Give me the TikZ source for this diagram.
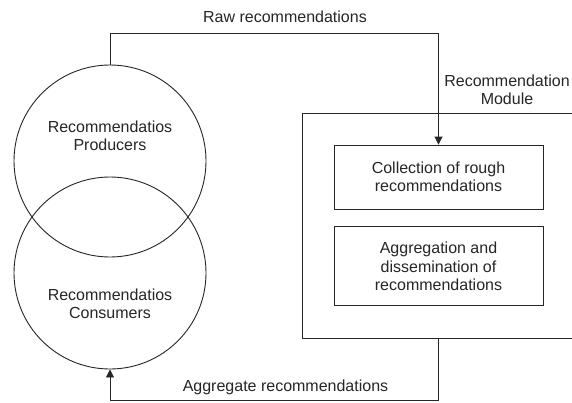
\documentclass[tikz,border=0pt]{standalone}
\usepackage{fontspec}
\setmainfont{Liberation Sans}
\usetikzlibrary{arrows.meta,positioning}

\begin{document}
\begin{tikzpicture}[
        x=1pt, y=-1pt,
        every node/.style={font=\fontsize{16}{18.5}\selectfont, align=center, inner sep=0pt},
        role/.style={draw, circle, minimum size=192pt},
        stepbox/.style={draw, minimum width=209pt},
        arrow/.style={-{Triangle[length=8pt,width=8pt]}},
        line width=0.9pt, color=black!85
    ]
        \clip (0,0) rectangle (572,402);
        \fill[white] (0,0) rectangle (572,402);

        % Producers and consumers
        \node[role] (prod) at (110,161) {};
        \node[role] (cons) at (110,273) {};
        \node (prodtext) at (110,136) {Recommendatios\\Producers};
        \node (constext) at (110,304) {Recommendatios\\Consumers};

        % Recommendation module
        \node[draw, minimum width=290pt, minimum height=225pt] (module) at (447,225.5) {};
        \node (modlabel) at (507,90) {Recommendation\\Module};
        \node[stepbox, minimum height=64pt] (coll) at (438.5,177) {Collection of rough\\recommendations};
        \node[stepbox, minimum height=79pt, below=17pt of coll] (aggr) {Aggregation and\\dissemination of\\recommendations};

        % Arrows
        \coordinate (rawturn) at (438.5,33);
        \coordinate (aggturn) at (110,400);
        \draw[arrow] (prod.north) |- (rawturn) -- (coll.north);
        \draw[arrow] (coll.south |- module.south) |- (aggturn) -- (cons.south);
        \node (rawlabel) at (285,17) {Raw recommendations};
        \node (agglabel) at (285.5,387) {Aggregate recommendations};
\end{tikzpicture}
\end{document}
